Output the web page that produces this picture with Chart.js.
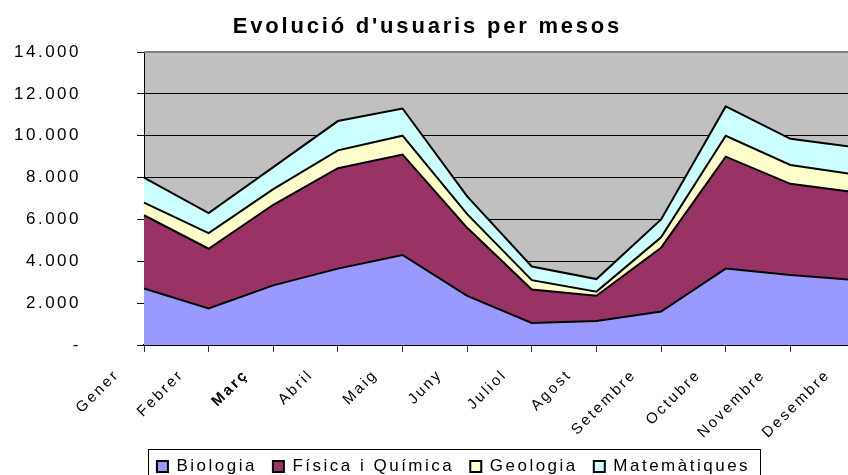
<!DOCTYPE html>
<html>
<head>
<meta charset="utf-8">
<script src="https://cdn.jsdelivr.net/npm/chart.js@4.4.1/dist/chart.umd.min.js"></script>
<style>
  html, body { margin: 0; padding: 0; background: #fff; overflow: hidden; }
  #wrap { width: 848px; height: 475px; overflow: hidden; }
</style>
</head>
<body>
<div id="wrap"><canvas id="chart_usuaris" width="862" height="475"></canvas></div>
<script>
"use strict";
// mesos i usuaris per departament (llegit del gràfic)
var mesos = ["Gener", "Febrer", "Març", "Abril", "Maig", "Juny", "Juliol", "Agost", "Setembre", "Octubre", "Novembre", "Desembre"];
var biologia = [2700, 1750, 2850, 3650, 4300, 2350, 1050, 1150, 1600, 3650, 3350, 3100];
var fisica = [3500, 2850, 3850, 4800, 4800, 3250, 1600, 1200, 3050, 5350, 4350, 4200];
var geologia = [600, 750, 750, 850, 900, 650, 450, 200, 500, 1000, 900, 850];
var matematiques = [1200, 950, 1050, 1400, 1300, 850, 650, 600, 850, 1400, 1250, 1300];
var yTicks = [0, 2000, 4000, 6000, 8000, 10000, 12000, 14000];

var KTUsuaris = function() {
    function fmt(v) {
        if (v === 0) return "-";
        return String(v).replace(/\B(?=(\d{3})+(?!\d))/g, ".");
    }

    function serie(label, data, color, fill) {
        return {
            label: label,
            data: data,
            backgroundColor: color,
            borderColor: "#000",
            borderWidth: 2,
            borderJoinStyle: "miter",
            pointRadius: 0,
            tension: 0,
            fill: fill
        };
    }

    // fons gris, vora superior, espaiat de lletres, requadre de llegenda
    var excelLook = {
        id: "excelLook",
        afterInit: function(c) {
            var tb = c.titleBlock, d = tb.draw;
            tb.draw = function() {
                c.ctx.letterSpacing = "2.8px";
                d.apply(this, arguments);
                c.ctx.letterSpacing = "2.5px";
            };
        },
        beforeLayout: function(c) { c.ctx.letterSpacing = "2.5px"; },
        afterLayout: function(c) {
            var l = c.legend, t = c.titleBlock, sx = c.scales.x;
            l.left += 20; l.right += 20;
            l.top += 10; l.bottom += 10;
            t.left -= 6; t.right -= 6;
            // les etiquetes girades poden baixar per sobre de la llegenda
            sx.bottom += 30;
        },
        beforeDraw: function(c) {
            var a = c.chartArea, x = c.ctx;
            x.letterSpacing = "2.5px";
            x.save();
            x.fillStyle = "#C0C0C0";
            x.fillRect(a.left, a.top, a.right - a.left, a.bottom - a.top);
            x.restore();
        },
        afterDatasetsDraw: function(c) {
            var a = c.chartArea, x = c.ctx;
            x.save();
            x.strokeStyle = "#808080";
            x.lineWidth = 2;
            x.beginPath();
            x.moveTo(a.left, a.top);
            x.lineTo(a.right, a.top);
            x.stroke();
            x.restore();
        },
        afterDraw: function(c) {
            var hb = c.legend.legendHitBoxes, x = c.ctx;
            if (!hb || !hb.length) return;
            var first = hb[0], last = hb[hb.length - 1];
            x.save();
            x.strokeStyle = "#000";
            x.lineWidth = 1;
            x.strokeRect(Math.round(first.left - 9) + 0.5, Math.round(first.top - 9) + 0.5,
                Math.round(last.left + last.width - first.left + 19), 60);
            x.restore();
        }
    };

    return {
        init: function() {
            Chart.defaults.font.family = "Arial, 'Liberation Sans', sans-serif";
            Chart.defaults.color = "#000";
            var el = document.getElementById("chart_usuaris");
            new Chart(el, {
                type: "line",
                data: {
                    labels: mesos,
                    datasets: [
                        serie("Biologia", biologia, "#9999FF", "origin"),
                        serie("Física i Química", fisica, "#993366", "-1"),
                        serie("Geologia", geologia, "#FFFFCC", "-1"),
                        serie("Matemàtiques", matematiques, "#CCFFFF", "-1")
                    ]
                },
                options: {
                    responsive: !1,
                    animation: !1,
                    layout: { padding: { left: 12, right: 7, top: 0, bottom: 0 } },
                    plugins: {
                        title: {
                            display: !0,
                            text: "Evolució d'usuaris per mesos",
                            font: { size: 22, weight: "bold" },
                            padding: { top: 14, bottom: 11.6 }
                        },
                        legend: {
                            position: "bottom",
                            labels: {
                                font: { size: 17 },
                                boxWidth: 11,
                                boxHeight: 11,
                                padding: 16,
                                color: "#000"
                            }
                        },
                        tooltip: { enabled: !1 }
                    },
                    scales: {
                        x: {
                            offset: !1,
                            grid: { drawOnChartArea: !1, drawTicks: !0, tickLength: 7, color: "#333" },
                            border: { color: "#000", width: 2 },
                            ticks: {
                                autoSkip: !1,
                                maxRotation: 45,
                                minRotation: 45,
                                padding: 14,
                                labelOffset: -27,
                                font: function(c) { return { size: 15, weight: c.index === 2 ? "bold" : "normal" }; }
                            },
                            afterFit: function(s) {
                                s.height = 87;
                                s.paddingRight = 0;
                            }
                        },
                        y: {
                            stacked: !0,
                            min: yTicks[0],
                            max: yTicks[yTicks.length - 1],
                            afterBuildTicks: function(s) {
                                s.ticks = yTicks.map(function(v) { return { value: v }; });
                            },
                            grid: { color: "#000", lineWidth: 1, tickLength: 7 },
                            border: { color: "#000", width: 1 },
                            ticks: {
                                padding: 56,
                                font: { size: 17 },
                                callback: function(v) { return fmt(v); }
                            },
                            afterFit: function(s) {
                                s.width = 132;
                                s.paddingTop = 0;
                                s.paddingBottom = 0;
                            }
                        }
                    }
                },
                plugins: [excelLook]
            });
        }
    };
}();
document.addEventListener("DOMContentLoaded", function() {
    KTUsuaris.init();
});
</script>
</body>
</html>
